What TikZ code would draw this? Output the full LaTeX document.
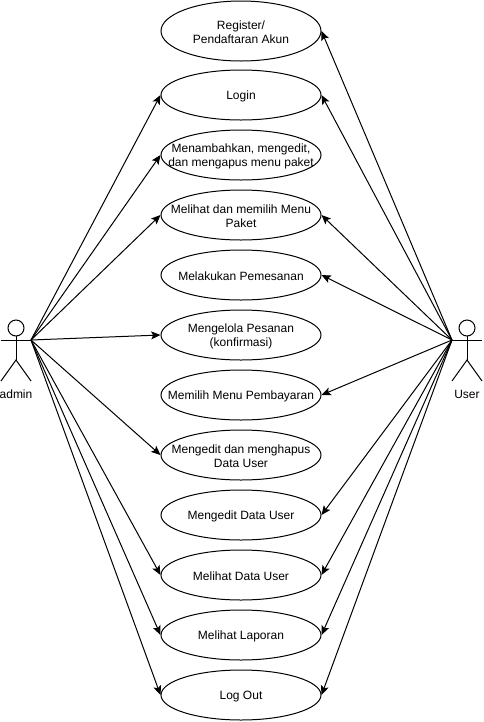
\documentclass[tikz,border=0pt]{standalone}
\usepackage{fontspec}
\setmainfont{Liberation Sans}
\usetikzlibrary{shapes.geometric,arrows.meta}
\tikzset{
  usecase/.style={ellipse,draw=black,line width=0.75pt,fill=white,minimum width=120pt,minimum height=37.5pt,inner sep=0pt},
  tall/.style={minimum height=45pt},
  casetext/.style={align=center,inner sep=0pt,yshift=-1pt,font=\fontsize{9}{10.5}\selectfont},
  actorlabel/.style={font=\fontsize{9}{10.5}\selectfont,inner sep=0pt},
  actorline/.style={line width=0.75pt,draw=black},
  link/.style={line width=0.75pt,draw=black,-{Stealth[length=7pt,width=6pt,inset=1.5pt]}}
}
\begin{document}
\begin{tikzpicture}[x=0.75pt,y=-0.75pt]
\useasboundingbox (0,0) rectangle (483,722);
\fill[white] (0,0) rectangle (483,722);
% use cases
\node[usecase,tall,label={[casetext]center:{Register/\\Pendaftaran Akun}}] (register) at (241,31) {};
\node[usecase,label={[casetext]center:{Login}}] (login) at (241,95) {};
\node[usecase,label={[casetext]center:{Menambahkan, mengedit,\\dan mengapus menu paket}}] (tambah) at (241,155) {};
\node[usecase,label={[casetext]center:{Melihat dan memilih Menu\\Paket}}] (lihatmenu) at (241,215) {};
\node[usecase,label={[casetext]center:{Melakukan Pemesanan}}] (pesan) at (241,275) {};
\node[usecase,label={[casetext]center:{Mengelola Pesanan\\(konfirmasi)}}] (kelola) at (241,335) {};
\node[usecase,label={[casetext]center:{Memilih Menu Pembayaran}}] (bayar) at (241,395) {};
\node[usecase,label={[casetext]center:{Mengedit dan menghapus\\Data User}}] (hapus) at (241,455) {};
\node[usecase,label={[casetext]center:{Mengedit Data User}}] (edit) at (241,515) {};
\node[usecase,label={[casetext]center:{Melihat Data User}}] (lihatdata) at (241,575) {};
\node[usecase,label={[casetext]center:{Melihat Laporan}}] (laporan) at (241,635) {};
\node[usecase,label={[casetext]center:{Log Out}}] (logout) at (241,695) {};
% actors
\coordinate (admin) at (31,340);
\coordinate (adminhip) at (16,360);
\coordinate (adminleft) at (1,340);
\coordinate (adminneck) at (16,336);
\draw[actorline] (16,328) circle[radius=8];
\draw[actorline] (adminneck) -- (adminhip);
\draw[actorline] (adminleft) -- (admin);
\draw[actorline] (1,381) -- (adminhip) -- (31,381);
\node[actorlabel] (adminlabel) at (16,394) {admin};
\coordinate (user) at (452,340);
\coordinate (userhip) at (467,360);
\coordinate (userright) at (482,340);
\coordinate (userneck) at (467,336);
\draw[actorline] (467,328) circle[radius=8];
\draw[actorline] (userneck) -- (userhip);
\draw[actorline] (user) -- (userright);
\draw[actorline] (452,381) -- (userhip) -- (482,381);
\node[actorlabel] (userlabel) at (467,394) {User};
% admin links
\foreach \t in {login,tambah,lihatmenu,kelola,hapus,lihatdata,laporan,logout}
  \draw[link] (admin) -- (\t.west);
% user links
\foreach \t in {register,login,lihatmenu,pesan,bayar,edit,lihatdata,laporan,logout}
  \draw[link] (user) -- (\t.east);
\end{tikzpicture}
\end{document}
